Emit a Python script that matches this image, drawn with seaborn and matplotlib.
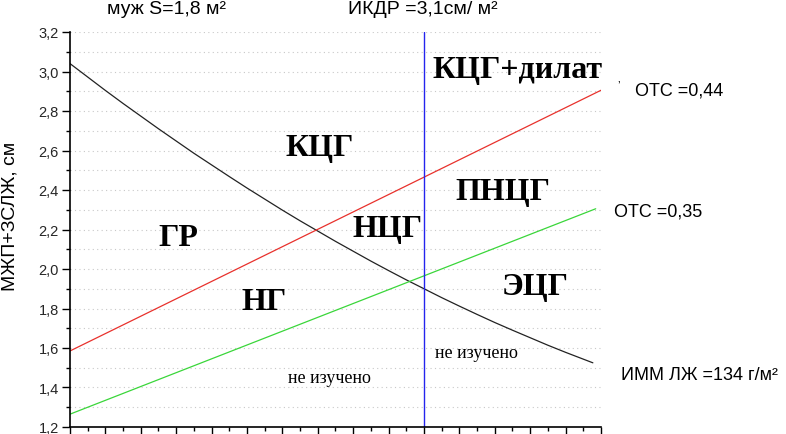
import numpy as np
import pandas as pd
import matplotlib
matplotlib.use("Agg")
import matplotlib.pyplot as plt
from matplotlib.ticker import MultipleLocator, FuncFormatter
import seaborn as sns

# curve: ИММ ЛЖ = 134 г/м2
imm_x = [0, 0.5, 1, 1.5, 2, 2.5, 3, 3.5, 4, 4.5, 5, 5.5, 6, 6.5, 7, 7.5,
         8, 8.5, 9, 9.5, 10, 10.5, 11, 11.5, 12, 12.5, 13, 13.5, 14, 14.77]
imm_y = [3.040, 2.972, 2.904, 2.838, 2.774, 2.710, 2.648, 2.586, 2.527,
         2.468, 2.410, 2.354, 2.298, 2.244, 2.192, 2.140, 2.090, 2.040,
         1.992, 1.945, 1.900, 1.855, 1.812, 1.770, 1.729, 1.690, 1.652,
         1.614, 1.578, 1.525]

# straight lines ОТС
ots44_x = [0, 15]
ots44_y = [1.585, 2.905]
ots35_x = [0, 14.85]
ots35_y = [1.265, 2.305]

ikdr_x = 10

zones = ["КЦГ+дилат", "КЦГ", "ПНЦГ", "ГР", "НЦГ", "НГ", "ЭЦГ"]
zone_x = [12.63, 7.06, 12.23, 3.05, 8.96, 5.48, 13.14]
zone_y = [3.01, 2.616, 2.39, 2.16, 2.205, 1.835, 1.91]

SANS = ["Liberation Sans", "DejaVu Sans"]
SERIF = ["Liberation Serif", "DejaVu Serif"]

sns.set_theme(style="white")
plt.rcParams["font.family"] = SANS

fig = plt.figure(figsize=(7.86, 4.35), dpi=100)
ax = fig.add_axes([70 / 786, 7 / 435, 531 / 786, 395 / 435])

df_imm = pd.DataFrame({"x": imm_x, "y": imm_y})
df_44 = pd.DataFrame({"x": ots44_x, "y": ots44_y})
df_35 = pd.DataFrame({"x": ots35_x, "y": ots35_y})

sns.lineplot(data=df_imm, x="x", y="y", ax=ax, color="#222222", lw=0.9)
sns.lineplot(data=df_44, x="x", y="y", ax=ax, color="#e8312c", lw=0.9)
sns.lineplot(data=df_35, x="x", y="y", ax=ax, color="#3ad63a", lw=0.9)
ax.axvline(ikdr_x, color="#2424ee", lw=1.0)

ax.set_xlim(0, 15)
ax.set_ylim(1.2, 3.2)
ax.xaxis.set_major_locator(MultipleLocator(1))
ax.xaxis.set_minor_locator(MultipleLocator(0.5))
ax.yaxis.set_major_locator(MultipleLocator(0.2))
ax.yaxis.set_minor_locator(MultipleLocator(0.1))
ax.xaxis.set_major_formatter(FuncFormatter(lambda v, p: ""))
ax.yaxis.set_major_formatter(
    FuncFormatter(lambda v, p: f"{v:.1f}".replace(".", ",")))
ax.tick_params(axis="both", which="major", direction="out", length=6,
               width=1, color="black", labelsize=10.5, pad=2,
               bottom=True, left=True)
ax.tick_params(axis="both", which="minor", direction="out", length=3,
               width=1, color="black", bottom=True, left=True)
ax.grid(True, axis="y", which="both", color="#c8c8c8", ls=(0, (1, 3)),
        lw=0.8)
ax.set_axisbelow(True)
for s in ["top", "right"]:
    ax.spines[s].set_visible(False)
for s in ["left", "bottom"]:
    ax.spines[s].set_color("black")
    ax.spines[s].set_linewidth(1.2)

ax.set_xlabel("")
ax.set_ylabel("МЖП+ЗСЛЖ, см", fontsize=14, color="black")
ax.yaxis.set_label_coords(-0.097, 0.535)

for name, zx, zy in zip(zones, zone_x, zone_y):
    ax.text(zx, zy, name, family=SERIF, fontweight="bold", fontsize=23,
            ha="center", va="center", color="black")

ax.text(7.34, 1.45, "не изучено", family=SERIF, fontsize=13,
        ha="center", va="center", color="black")
ax.text(11.47, 1.575, "не изучено", family=SERIF, fontsize=13,
        ha="center", va="center", color="black")

fig.text(107 / 786, 1 - 9 / 435, "муж S=1,8 м²", fontsize=14,
         ha="left", va="center", color="black")
fig.text(348 / 786, 1 - 9 / 435, "ИКДР =3,1см/ м²", fontsize=14,
         ha="left", va="center", color="black")
fig.text(635 / 786, 1 - 91 / 435, "ОТС =0,44", fontsize=13,
         ha="left", va="center", color="black")
fig.text(617 / 786, 1 - 88 / 435, "ʼ", fontsize=9,
         ha="left", va="center", color="black")
fig.text(614 / 786, 1 - 212 / 435, "ОТС =0,35", fontsize=13,
         ha="left", va="center", color="black")
fig.text(621 / 786, 1 - 376 / 435, "ИММ ЛЖ =134 г/м²", fontsize=13,
         ha="left", va="center", color="black")

fig.savefig("out.png", dpi=100)
